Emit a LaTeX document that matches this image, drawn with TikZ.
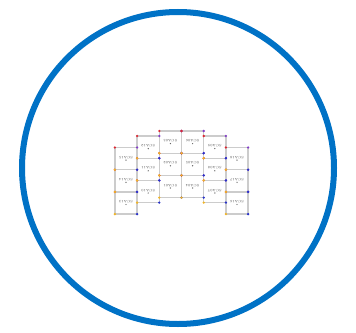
\documentclass[tikz,border=0pt]{standalone}
\usepackage{graphicx}
\usetikzlibrary{positioning}
\definecolor{ringblue}{RGB}{0,114,198}
\definecolor{dotred}{RGB}{220,40,50}
\definecolor{dotpurple}{RGB}{130,60,200}
\definecolor{dotyellow}{RGB}{240,180,40}
\definecolor{dotblue}{RGB}{40,50,200}

\begin{document}
\begin{tikzpicture}[
    x=1pt, y=-1pt,
    sca/.style={draw=gray!40, line width=1.3pt, rectangle, minimum size=22.2pt, inner sep=0pt, outer sep=0pt,
        font=\fontsize{3.4}{3.4}\selectfont, text=black!70, text height=0pt, text depth=5pt},
    cornerdot/.style={radius=1.3pt}
]
\useasboundingbox (0,0) rectangle (356,332);

% outer ring
\draw[ringblue, line width=6pt] (178,168) circle (156);

% column tops
\node[sca] (sca15) at (126.0,158.6) {\rotatebox{180}{SCA15}};
\node[sca] (sca12) at (148.2,147.1) {\rotatebox{180}{SCA12}};
\node[sca] (sca03) at (170.4,142.1) {\rotatebox{180}{SCA03}};
\node[sca] (sca06) at (192.6,142.1) {\rotatebox{180}{SCA06}};
\node[sca] (sca09) at (214.8,147.1) {\rotatebox{180}{SCA09}};
\node[sca] (sca18) at (237.0,158.6) {\rotatebox{180}{SCA18}};

% rest of each column
\node[sca, below=0pt of sca15] (sca14) {\rotatebox{180}{SCA14}};
\node[sca, below=0pt of sca14] (sca13) {\rotatebox{180}{SCA13}};
\node[sca, below=0pt of sca12] (sca11) {\rotatebox{180}{SCA11}};
\node[sca, below=0pt of sca11] (sca10) {\rotatebox{180}{SCA10}};
\node[sca, below=0pt of sca03] (sca02) {\rotatebox{180}{SCA02}};
\node[sca, below=0pt of sca02] (sca01) {\rotatebox{180}{SCA01}};
\node[sca, below=0pt of sca06] (sca05) {\rotatebox{180}{SCA05}};
\node[sca, below=0pt of sca05] (sca04) {\rotatebox{180}{SCA04}};
\node[sca, below=0pt of sca09] (sca08) {\rotatebox{180}{SCA08}};
\node[sca, below=0pt of sca08] (sca07) {\rotatebox{180}{SCA07}};
\node[sca, below=0pt of sca18] (sca17) {\rotatebox{180}{SCA17}};
\node[sca, below=0pt of sca17] (sca16) {\rotatebox{180}{SCA16}};

% centre marks and corner dots
\foreach \n in {sca01,sca02,sca03,sca04,sca05,sca06,sca07,sca08,sca09,
                sca10,sca11,sca12,sca13,sca14,sca15,sca16,sca17,sca18} {
    \fill[black!60] ([yshift=-1.5pt]\n.center) circle (0.7pt);
    \fill[dotred, cornerdot] (\n.north west) circle;
    \fill[dotpurple, cornerdot] (\n.north east) circle;
    \fill[dotyellow, cornerdot] (\n.south west) circle;
    \fill[dotblue, cornerdot] (\n.south east) circle;
}

\end{tikzpicture}
\end{document}
